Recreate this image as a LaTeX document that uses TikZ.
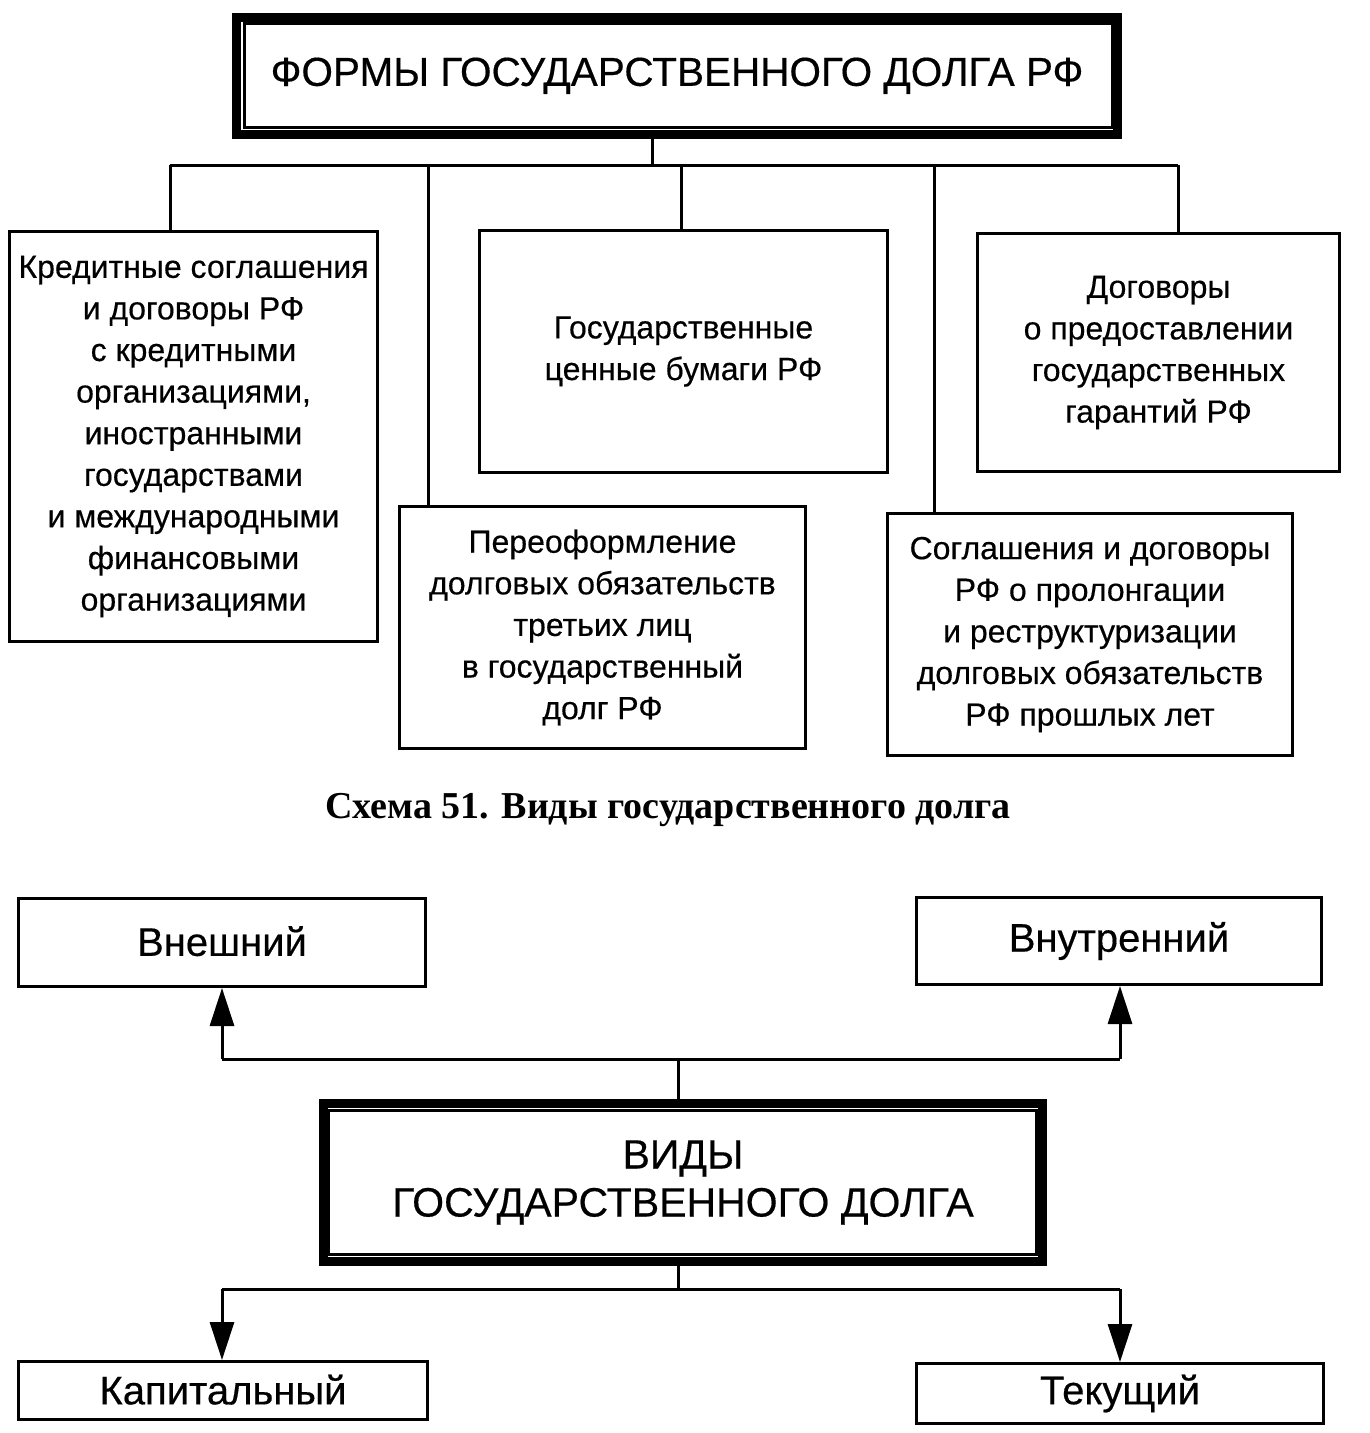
\documentclass[tikz,border=0pt]{standalone}
\usepackage{fontspec}
\setmainfont{Liberation Sans}[FakeBold=0.4]
\newfontfamily\capfont{Liberation Serif}
\usetikzlibrary{arrows.meta}
\tikzset{
  boxtext/.style={draw, line width=3pt, anchor=north west, align=center, inner sep=0pt,
     font=\fontsize{32}{41.6}\selectfont},
  conn/.style={line width=3pt},
  arr/.style={line width=3pt, -{Triangle[length=38pt,width=24pt]}},
  thickframe/.style={draw, line width=9pt, anchor=north west, align=center, inner sep=0pt},
  thinframe/.style={line width=3pt}
}
\begin{document}
\begin{tikzpicture}[x=1pt,y=-1pt]
\useasboundingbox (0,0) rectangle (1369,1433);
% Title
\node[thickframe, minimum width=881pt, minimum height=117.5pt, font=\fontsize{40.5}{46}\selectfont] (title) at (232,12.5) {ФОРМЫ ГОСУДАРСТВЕННОГО ДОЛГА РФ};
\draw[thinframe] ([shift={(12pt,-10.5pt)}]title.north west) rectangle ([shift={(-10pt,12pt)}]title.south east);
% boxes
\node[boxtext, minimum width=368pt, minimum height=410pt] (b1) at (8,230) {Кредитные соглашения\\и договоры РФ\\с кредитными\\организациями,\\иностранными\\государствами\\и международными\\финансовыми\\организациями};
\node[boxtext, minimum width=408pt, minimum height=242pt] (b2) at (478,229) {Государственные\\ценные бумаги РФ};
\node[boxtext, minimum width=362pt, minimum height=238pt] (b3) at (976,232) {Договоры\\о предоставлении\\государственных\\гарантий РФ};
\node[boxtext, minimum width=406pt, minimum height=242pt] (b4) at (398,505) {Переоформление\\долговых обязательств\\третьих лиц\\в государственный\\долг РФ};
\node[boxtext, minimum width=405pt, minimum height=242pt] (b5) at (886,512) {Соглашения и договоры\\РФ о пролонгации\\и реструктуризации\\долговых обязательств\\РФ прошлых лет};
% connectors top
\coordinate (hub) at (652,165);
\coordinate (t1) at (170,165);
\coordinate (t2) at (428,165);
\coordinate (t3) at (681,165);
\coordinate (t4) at (934,165);
\coordinate (t5) at (1178,165);
\draw[conn] (hub |- title.south) -- (hub);
\draw[conn] (t1) -- (t5);
\draw[conn] (t1) -- (t1 |- b1.north);
\draw[conn] (t2) -- (t2 |- b4.north);
\draw[conn] (t3) -- (t3 |- b2.north);
\draw[conn] (t4) -- (t4 |- b5.north);
\draw[conn] (t5) -- (t5 |- b3.north);
% caption
\node[font=\capfont\bfseries\fontsize{38}{44}\selectfont] (cap) at (668,810) {Схема 51. Виды государственного долга};
% bottom part
\node[boxtext, minimum width=407pt, minimum height=88pt, font=\fontsize{40}{44}\selectfont] (ext) at (17,897) {\raisebox{3pt}{Внешний}};
\node[boxtext, minimum width=405pt, minimum height=87pt, font=\fontsize{40}{44}\selectfont] (int) at (915,896) {Внутренний};
\node[thickframe, minimum width=719pt, minimum height=158pt, font=\fontsize{41}{48}\selectfont] (vidy) at (319,1099) {ВИДЫ\\ГОСУДАРСТВЕННОГО ДОЛГА};
\draw[thinframe] ([shift={(9pt,-11pt)}]vidy.north west) rectangle ([shift={(-11pt,12pt)}]vidy.south east);
\node[boxtext, minimum width=409pt, minimum height=58pt, font=\fontsize{40}{44}\selectfont] (cap1) at (17,1360) {\raisebox{2pt}{Капитальный}};
\node[boxtext, minimum width=407pt, minimum height=60pt, font=\fontsize{40}{44}\selectfont] (cur) at (915,1362) {Текущий};
\coordinate (u0) at (678,1059);
\coordinate (ul) at (222,1059);
\coordinate (ur) at (1120,1059);
\draw[conn] (u0 |- vidy.north) -- (u0);
\draw[conn] (ul) -- (ur);
\draw[arr] (ul) -- (ul |- ext.south);
\draw[arr] (ur) -- (ur |- int.south);
\coordinate (d0) at (678,1289);
\coordinate (dl) at (222,1289);
\coordinate (dr) at (1120,1289);
\draw[conn] (d0 |- vidy.south) -- (d0);
\draw[conn] (dl) -- (dr);
\draw[arr] (dl) -- (dl |- cap1.north);
\draw[arr] (dr) -- (dr |- cur.north);
\end{tikzpicture}
\end{document}
